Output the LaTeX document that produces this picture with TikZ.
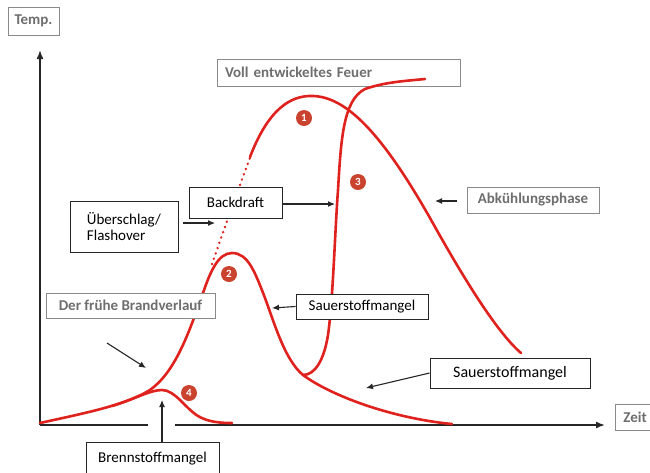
\documentclass[tikz,border=0pt]{standalone}
\usepackage{fontspec}
\setmainfont{Carlito}
\usetikzlibrary{arrows.meta}
\definecolor{fire}{HTML}{E0221E}
\definecolor{badge}{HTML}{C9432F}
\definecolor{labgray}{HTML}{6E6E6E}
\definecolor{boxgray}{HTML}{8A8A8A}
\tikzset{
  graybox/.style={draw=boxgray, line width=0.9pt, fill=white, text=labgray, font=\fontsize{15}{17}\selectfont\bfseries, inner sep=0pt},
  blackbox/.style={draw=black!85, line width=0.9pt, fill=white, text=black, font=\fontsize{15}{17}\selectfont, inner sep=0pt},
  arr/.style={-{Latex[length=7pt,width=6pt]}, line width=1.1pt, black!85},
  axis/.style={line width=1.6pt, black!85},
  curve/.style={fire, line width=2.6pt, line cap=round, line join=round},
  badgenode/.style={circle, fill=badge, text=white, font=\fontsize{11}{11}\selectfont\bfseries, inner sep=0pt, minimum size=16pt}
}
\begin{document}
\begin{tikzpicture}[x=1pt,y=-1pt]
\clip (0,0) rectangle (650,472);
\fill[white] (0,0) rectangle (650,472);

% axes
\coordinate (o) at (40,425);
\coordinate (ytip) at (40,50);
\coordinate (xtip) at (605,425);
\draw[axis, -{Latex[length=9pt,width=7pt]}] (o) -- (ytip);
\draw[axis] (o) -- (148,425);
\draw[axis, -{Latex[length=9pt,width=7pt]}] (175,425) -- (xtip);

% box behind the curves (unfilled in the reference)
\node[graybox, fill=none, minimum width=243pt, minimum height=27pt, text width=227pt, inner xsep=8pt, align=left] (voll) at (338.5,72.5) {Voll entwickeltes Feuer};

% red curves
% early course + curve 2
\draw[curve] (40,423) .. controls (90,412) and (125,405) .. (150,390)
  .. controls (175,372) and (188,335) .. (202,296)
  .. controls (210,272) and (218,253) .. (232,253)
  .. controls (248,253) and (255,272) .. (265,298)
  .. controls (275,325) and (285,360) .. (303,375)
  .. controls (330,395) and (390,418) .. (452,424);
% flashover (dotted)
\draw[curve, dash pattern=on 0.1pt off 5.5pt] (212,264) .. controls (222,235) and (238,190) .. (251,155);
% curve 1
\draw[curve] (250,157) .. controls (268,110) and (290,95) .. (313,96)
  .. controls (345,97) and (380,130) .. (430,218)
  .. controls (470,290) and (500,335) .. (521,353);
% curve 3 (backdraft)
\draw[curve] (303,375) .. controls (315,375) and (324,360) .. (328,335)
  .. controls (333,300) and (335,230) .. (338,190)
  .. controls (341,140) and (343,100) .. (365,89)
  .. controls (385,82) and (405,81) .. (425,79);
% curve 4
\draw[curve] (112,406) .. controls (135,399) and (150,390) .. (162,390)
  .. controls (175,390) and (185,408) .. (198,416)
  .. controls (208,422) and (220,423) .. (232,423);

% badges
\node[badgenode] (b1) at (304,118) {1};
\node[badgenode] (b2) at (229,274) {2};
\node[badgenode] (b3) at (358,182) {3};
\node[badgenode] (b4) at (189,393) {4};

% labels
\node[graybox, minimum width=51pt, minimum height=28pt] (temp) at (33.5,21) {Temp.};
\node[graybox, minimum width=40pt, minimum height=26pt] (zeit) at (635,417) {Zeit};
\node[blackbox, minimum width=93pt, minimum height=31pt] (bd) at (235.5,202.5) {Backdraft};
\node[blackbox, minimum width=108pt, minimum height=51pt, align=left, font=\fontsize{15}{16}\selectfont] (flash) at (124,226.5) {Überschlag/\\Flashover};
\node[graybox, minimum width=169pt, minimum height=25pt] (frueh) at (130.5,305.5) {Der frühe Brandverlauf};
\node[blackbox, minimum width=132pt, minimum height=25pt] (s1) at (362,306.5) {Sauerstoffmangel};
\node[blackbox, minimum width=160pt, minimum height=30pt, font=\fontsize{16}{18}\selectfont] (s2) at (510,373) {Sauerstoffmangel};
\node[graybox, minimum width=132pt, minimum height=26pt] (abk) at (533,200) {Abkühlungsphase};
\node[blackbox, minimum width=133pt, minimum height=34pt] (bm) at (152.5,459) {Brennstoffmangel};

% arrows
\coordinate (fa) at (215,223);
\coordinate (ba) at (335,204);
\coordinate (aa) at (435,201);
\coordinate (s1a) at (272,308);
\coordinate (s2a) at (366,388);
\coordinate (bma) at (162,400);
\coordinate (fs) at (107,343);
\coordinate (fe) at (146,368);
\draw[arr, shorten <=5pt] (flash.east |- fa) -- (fa);
\draw[arr] (bd.east |- ba) -- (ba);
\draw[arr, shorten <=10pt] (abk.west |- aa) -- (aa);
\draw[arr] (s1.west) -- (s1a);
\draw[arr] (s2.west) -- (s2a);
\draw[arr] (bm.north -| bma) -- (bma);
\draw[arr] (fs) -- (fe);
\end{tikzpicture}
\end{document}
